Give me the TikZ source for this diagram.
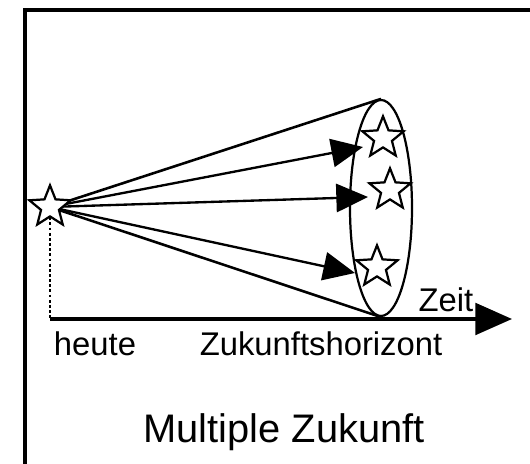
\documentclass[tikz,border=0pt]{standalone}
\usepackage{fontspec}
\setmainfont{Liberation Sans}
\usetikzlibrary{arrows.meta,shapes.geometric,positioning}

\begin{document}
\begin{tikzpicture}[
    stern/.style={star, star points=5, star point ratio=2.3, draw, line width=1.9pt,
                  fill=white, minimum size=1.3cm, inner sep=0pt},
    pfeil/.style={line width=2pt, -{Triangle[length=0.95cm, width=0.85cm]}},
    kegel/.style={line width=2.2pt},
    text28/.style={font=\fontsize{28}{34}\selectfont, inner sep=0pt},
    text34/.style={font=\fontsize{34}{40}\selectfont, inner sep=0pt}
]
    \useasboundingbox (0,0) rectangle (15.9,13.92);
    \clip (0,0) rectangle (15.9,13.92);

    % Rahmen
    \draw[line width=3.4pt] (0.75,-1) rectangle (17,13.62);

    % Zeitachse
    \coordinate (achse-start) at (1.5,4.35);
    \coordinate (achse-ende) at (15.36,4.35);
    \draw[line width=2.8pt, -{Triangle[length=1.1cm, width=0.95cm]}] (achse-start) -- (achse-ende);

    % Zukunftshorizont
    \node[ellipse, draw, line width=1.9pt, minimum width=1.86cm, minimum height=6.48cm,
          inner sep=0pt] (horizont) at (11.43,7.68) {};

    % Pfeilspitzen
    \coordinate (p1) at (10.89,9.51);
    \coordinate (p2) at (11.04,8.01);
    \coordinate (p3) at (10.65,5.73);

    % Heute
    \coordinate (heute-mitte) at (1.5,7.71);
    \draw[kegel] (heute-mitte) -- (horizont.north);
    \draw[kegel] (heute-mitte) -- (horizont.south);
    \draw[pfeil] (heute-mitte) -- (p1);
    \draw[pfeil] (heute-mitte) -- (p2);
    \draw[pfeil] (heute-mitte) -- (p3);
    \draw[line width=2.4pt, dash pattern=on 2.4pt off 2pt] (heute-mitte) -- (achse-start);
    \node[stern] (heute-stern) at (heute-mitte) {};

    % Moegliche Zukuenfte
    \node[stern] (z1) at (11.49,9.78) {};
    \node[stern] (z2) at (11.7,8.22) {};
    \node[stern] (z3) at (11.31,5.91) {};

    % Beschriftungen
    \node[text28] (heute) at (2.85,3.6) {heute};
    \node[text28] (zukunft) at (9.63,3.6) {Zukunftshorizont};
    \node[text28] (zeit) at (13.38,4.92) {Zeit};
    \node[text34] (titel) at (8.52,0.96) {Multiple Zukunft};
\end{tikzpicture}
\end{document}
